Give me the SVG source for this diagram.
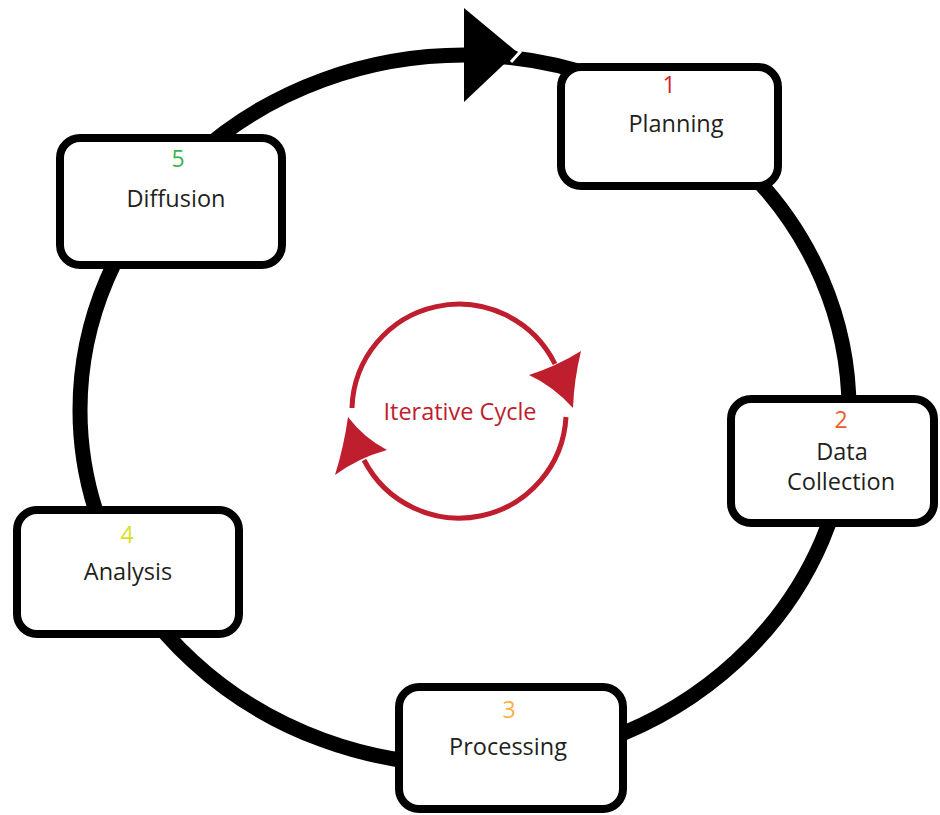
<svg xmlns="http://www.w3.org/2000/svg" width="940" height="815" viewBox="0 0 940 815">
<style>
.box{fill:#fff;stroke:#000;stroke-width:8}
.lbl{font-family:"Open Sans","Liberation Sans",sans-serif;font-size:23.5px;fill:#231f20;text-anchor:middle}
.num{font-family:"Open Sans","Liberation Sans",sans-serif;font-size:23px;text-anchor:middle}
.red{fill:none;stroke:#be1e2d;stroke-width:5}
</style>
<rect width="940" height="815" fill="#fff"/>
<g id="connectors">
<ellipse cx="464.5" cy="410" rx="384.5" ry="355" fill="none" stroke="#000" stroke-width="15"/>
<polygon points="464,8 464,102 517,52" fill="#000"/>
<polyline points="511,43 520,52 511,62" fill="none" stroke="#fff" stroke-width="3"/>
</g>
<g id="cycle">
<path class="red" d="M352,408 A107,107 0 0 1 555,364"/>
<path class="red" d="M566,417 A107,107 0 0 1 364,460"/>
<path d="M529,375 Q557,366 581,351 Q574,380 573,408 Q553,386 529,375 Z" fill="#be1e2d"/>
<path d="M348,417 Q364,438 387,450 Q358,458 335,475 Q344,446 348,417 Z" fill="#be1e2d"/>
<text x="460" y="420" font-family="Open Sans, Liberation Sans, sans-serif" font-size="23.5" fill="#be1e2d" text-anchor="middle">Iterative Cycle</text>
</g>
<g id="planning">
<rect class="box" x="561" y="67" width="217" height="119" rx="20"/>
<text class="num" x="669" y="93" fill="#d2232a">1</text>
<text class="lbl" x="676" y="132">Planning</text>
</g>
<g id="data-collection">
<rect class="box" x="731" y="399" width="203" height="124" rx="20"/>
<text class="num" x="841" y="428" fill="#f15a29">2</text>
<text class="lbl" x="842" y="460">Data</text>
<text class="lbl" x="841" y="490">Collection</text>
</g>
<g id="processing">
<rect class="box" x="399" y="687" width="224" height="122" rx="20"/>
<text class="num" x="509" y="718" fill="#fbb040">3</text>
<text class="lbl" x="508" y="755">Processing</text>
</g>
<g id="analysis">
<rect class="box" x="17" y="510" width="222" height="124" rx="20"/>
<text class="num" x="127" y="543" fill="#d9e021">4</text>
<text class="lbl" x="128" y="580">Analysis</text>
</g>
<g id="diffusion">
<rect class="box" x="60" y="138" width="222" height="127" rx="20"/>
<text class="num" x="178" y="167" fill="#39b54a">5</text>
<text class="lbl" x="176" y="207">Diffusion</text>
</g>
</svg>
